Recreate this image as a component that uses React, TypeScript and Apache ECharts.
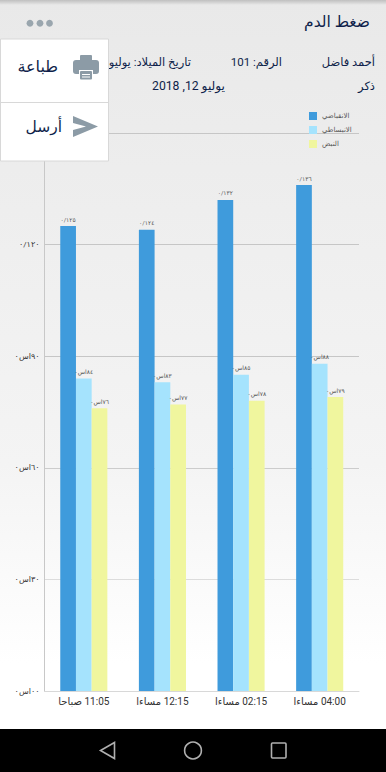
import React, { useEffect, useRef } from "react";
import * as echarts from "echarts";

const categories = ["11:05 صباحا", "12:15 مساءا", "02:15 مساءا", "04:00 مساءا"];
const systolic = [125, 124, 132, 136];
const diastolic = [84, 83, 85, 88];
const pulse = [76, 77, 78, 79];
const yTickLabels: Record<number, string> = {
  0: "٠٠اس٠",
  30: "٣٠اس٠",
  60: "٦٠اس٠",
  90: "٩٠اس٠",
  120: "٠/١٢٠",
  150: "",
};
const seriesNames = ["الانقباضي", "الانبساطي", "النبض"];
const seriesColors = ["#3f9bdc", "#a5e3fd", "#f0f69e"];

const FONT = "Roboto, 'DejaVu Sans', sans-serif";
const NAVY = "#0f1f4a";
const ICON = "#8c9ba6";
const NAV = "#b0b0b0";

const rtl = (s: string) => "\u202B" + s + "\u202C";
const arabicDigits = (n: number) =>
  String(n).replace(/[0-9]/g, (d) => "٠١٢٣٤٥٦٧٨٩"[Number(d)]);

function text(x: number, y: number, s: string, fontSize: number, align: string, z = 5, fill = NAVY) {
  return {
    type: "text",
    x,
    y,
    z,
    style: { text: rtl(s), fontSize, fontFamily: FONT, fill, align, verticalAlign: "middle" },
  };
}

function rect(x: number, y: number, width: number, height: number, fill: string, r = 0, z = 11) {
  return { type: "rect", z, shape: { x, y, width, height, r }, style: { fill } };
}

export default function App() {
  const ref = useRef<HTMLDivElement>(null);
  useEffect(() => {
    document.body.style.margin = "0";
    const chart = echarts.init(ref.current!, null, { renderer: "svg" });
    const makeBar = (name: string, data: number[], color: string, labelFn: (v: number) => string) => ({
      name,
      type: "bar",
      data,
      barWidth: 15.7,
      barGap: 0,
      itemStyle: { color },
      label: {
        show: true,
        position: "top",
        distance: 4,
        fontSize: 6,
        fontFamily: FONT,
        color: "#555",
        formatter: (p: any) => labelFn(p.value),
      },
    });
    chart.setOption({
      animation: false,
      backgroundColor: new echarts.graphic.LinearGradient(0, 0, 0, 1, [
        { offset: 0, color: "#e9e9e9" },
        { offset: 0.6, color: "#f4f4f4" },
        { offset: 0.86, color: "#ffffff" },
        { offset: 1, color: "#ffffff" },
      ]),
      grid: { left: 44.5, right: 27, top: 133, bottom: 81 },
      legend: {
        orient: "vertical",
        left: 309,
        top: 112,
        itemWidth: 8,
        itemHeight: 8,
        itemGap: 6,
        icon: "rect",
        padding: 0,
        textStyle: { fontSize: 7, fontFamily: FONT, color: "#555" },
        data: seriesNames,
      },
      xAxis: {
        type: "category",
        data: categories,
        axisLine: { lineStyle: { color: "#d8d8d8", width: 1 } },
        axisTick: { show: false },
        axisLabel: {
          fontSize: 10,
          fontFamily: FONT,
          color: "#333",
          margin: 5,
          interval: 0,
          formatter: (s: string) => rtl(s),
        },
      },
      yAxis: {
        type: "value",
        min: 0,
        max: 150,
        interval: 30,
        axisLine: { show: true, lineStyle: { color: "#c8c8c8", width: 1 } },
        axisTick: { show: false },
        axisLabel: {
          fontSize: 8,
          fontFamily: FONT,
          color: "#333",
          margin: 5,
          formatter: (v: number) => yTickLabels[v] ?? "",
        },
        splitLine: {
          show: true,
          lineStyle: { color: ["#d8d8d8", "#dcdcdc", "#cccccc", "#c6c6c6", "#c6c6c6", "#c6c6c6"], width: 1 },
        },
      },
      series: [
        makeBar(seriesNames[0], systolic, seriesColors[0], (v) => "٠/" + arabicDigits(v)),
        makeBar(seriesNames[1], diastolic, seriesColors[1], (v) => arabicDigits(v) + "اس٠"),
        makeBar(seriesNames[2], pulse, seriesColors[2], (v) => arabicDigits(v) + "اس٠"),
      ],
      graphic: [
        {
          type: "rect",
          z: 4,
          shape: { x: 0, y: 0, width: 386, height: 5 },
          style: {
            fill: new echarts.graphic.LinearGradient(0, 0, 0, 1, [
              { offset: 0, color: "rgba(0,0,0,0.18)" },
              { offset: 1, color: "rgba(0,0,0,0)" },
            ]),
          },
        },
        text(370, 22, "ضغط الدم", 15.5, "right"),
        { type: "circle", z: 5, shape: { cx: 30, cy: 23.3, r: 3.4 }, style: { fill: "#9aa6ae" } },
        { type: "circle", z: 5, shape: { cx: 40, cy: 23.3, r: 3.4 }, style: { fill: "#9aa6ae" } },
        { type: "circle", z: 5, shape: { cx: 49.5, cy: 23.3, r: 3.4 }, style: { fill: "#9aa6ae" } },
        text(375, 62, "أحمد فاضل", 11.5, "right"),
        text(282, 62, "الرقم: 101", 11.5, "right"),
        text(191, 62, "تاريخ الميلاد: يوليو 12, 2018", 11.5, "right"),
        text(375, 86, "ذكر", 11.5, "right"),
        text(225, 86, "يوليو 12, 2018", 12.2, "right"),

        // pop-up menu
        {
          type: "rect",
          z: 10,
          shape: { x: 0.5, y: 39, width: 108, height: 122 },
          style: { fill: "#ffffff", stroke: "#d8d8d8", lineWidth: 1 },
        },
        { type: "line", z: 11, shape: { x1: 0, y1: 102.5, x2: 108, y2: 102.5 }, style: { stroke: "#d8d8d8", lineWidth: 1 } },
        text(58, 66, "طباعة", 16, "right", 11),
        text(62, 127, "أرسل", 15.5, "right", 11),
        // printer icon
        rect(80, 55, 12, 7, ICON, 1),
        rect(73, 60, 26, 14, ICON, 3),
        rect(79, 70, 14, 10, "#ffffff", 0, 12),
        rect(80, 71, 12, 8.5, ICON, 1, 13),
        rect(82, 74, 8, 1, "#ffffff", 0, 14),
        rect(82, 76.5, 8, 1, "#ffffff", 0, 14),
        // send icon
        {
          type: "polygon",
          z: 11,
          shape: { points: [[73, 116], [98, 126.5], [73, 137], [73, 130], [86, 126.5], [73, 123]] },
          style: { fill: ICON },
        },

        // navigation bar
        rect(0, 729, 386, 43, "#000000", 0, 20),
        {
          type: "polygon",
          z: 21,
          shape: { points: [[114.5, 742.5], [100.5, 750.5], [114.5, 758.5]] },
          style: { fill: "none", stroke: NAV, lineWidth: 1.6 },
        },
        {
          type: "circle",
          z: 21,
          shape: { cx: 193, cy: 750.5, r: 8.4 },
          style: { fill: "none", stroke: NAV, lineWidth: 1.6 },
        },
        {
          type: "rect",
          z: 21,
          shape: { x: 271.5, y: 743, width: 14.5, height: 15, r: 1 },
          style: { fill: "none", stroke: NAV, lineWidth: 1.6 },
        },
      ],
    });
    return () => chart.dispose();
  }, []);
  return <div ref={ref} style={{ width: 386, height: 772 }} />;
}
